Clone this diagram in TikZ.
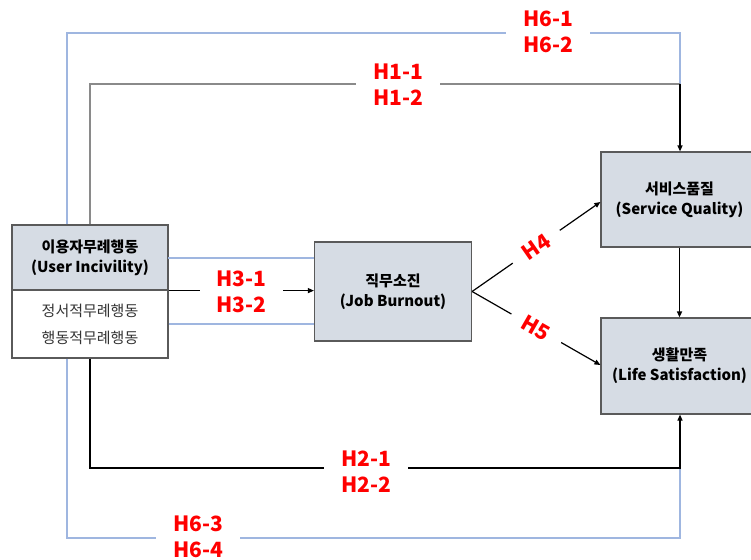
\documentclass[tikz,border=0pt]{standalone}
\usepackage{fontspec}
\setmainfont{Noto Sans CJK KR}
\usetikzlibrary{arrows.meta}
\definecolor{boxfill}{HTML}{D6DCE4}
\definecolor{boxline}{HTML}{5A5A5A}
\definecolor{blueline}{HTML}{9FB6E0}
\definecolor{grayline}{HTML}{8A8A8A}
\definecolor{hred}{HTML}{FF0000}
\tikzset{
 box/.style={draw=boxline, line width=1.2pt, fill=boxfill, inner sep=0pt, align=center, font=\fontsize{15}{20}\selectfont\bfseries},
 subbox/.style={draw=boxline, line width=1.2pt, fill=white, inner sep=0pt, align=center, font=\fontsize{15}{27}\selectfont, text=black!80},
 lab/.style={fill=white, text=hred, font=\fontsize{21}{26}\selectfont\bfseries, align=center, inner xsep=17pt, inner ysep=1pt},
 blink/.style={draw=blueline, line width=1.3pt},
 klink/.style={draw=black, line width=1.2pt},
 glink/.style={draw=grayline, line width=1.6pt},
 tip/.style={-{Triangle[length=6pt,width=5pt]}},
}
\begin{document}
\begin{tikzpicture}[x=1pt,y=-1pt]
\useasboundingbox (0,0) rectangle (751,559);
% boxes
\node[box, minimum width=156, minimum height=65] (ui) at (90,257.5) {이용자무례행동\\(User Incivility)};
\node[subbox, minimum width=156, minimum height=68] (uis) at (90,324) {정서적무례행동\\행동적무례행동};
\node[box, minimum width=157, minimum height=99] (jb) at (393,291.5) {직무소진\\(Job Burnout)};
\node[box, minimum width=157, minimum height=95] (sq) at (679.5,199.5) {서비스품질\\(Service Quality)};
\node[box, minimum width=157, minimum height=96] (ls) at (679.5,366) {생활만족\\(Life Satisfaction)};
% corner coordinates
\coordinate (h6tl) at (67,33);
\coordinate (h6tr) at (680,33);
\coordinate (h1r) at (680,84);
\coordinate (h2r) at (680,468);
\coordinate (h6bl) at (67,538);
\coordinate (h6br) at (680,538);
\coordinate (h3t) at (168,258);
% top paths
\draw[blink] (ui.north -| h6tl) -- (h6tl) -- (h6tr) -- (h1r);
\draw[glink] (ui.north) |- (h1r);
\draw[klink, tip] (h1r) -- (h1r |- sq.north);
% bottom paths
\draw[blink] (uis.south -| h6bl) -- (h6bl) -- (h6br) -- (h2r);
\draw[klink, tip] (uis.south) |- (h2r) -- (h2r |- ls.south);
% H3
\draw[blink] (h3t) -- (h3t -| jb.west);
\draw[blink] (uis.east) -- (uis.east -| jb.west);
\draw[klink, tip] (ui.south east) -- (ui.south east -| jb.west);
% H4 H5
\draw[klink, tip] (jb.east) -- node[lab, sloped, inner xsep=14pt] (l4) {H4} ([yshift=-2.5pt]sq.west);
\draw[klink, tip] (jb.east) -- node[lab, sloped, inner xsep=14pt] (l5) {H5} ([yshift=1pt]ls.west);
% SQ -> LS
\draw[klink, line width=1.8pt, tip] (sq.south) -- (ls.north);
% labels
\node[lab] (l1) at (398,85) {H1-1\\H1-2};
\node[lab] (l6a) at (548,32) {H6-1\\H6-2};
\node[lab] (l2) at (366,472) {H2-1\\H2-2};
\node[lab] (l6b) at (198,536.5) {H6-3\\H6-4};
\node[lab] (l3) at (241.5,291.5) {H3-1\\H3-2};
\end{tikzpicture}
\end{document}
